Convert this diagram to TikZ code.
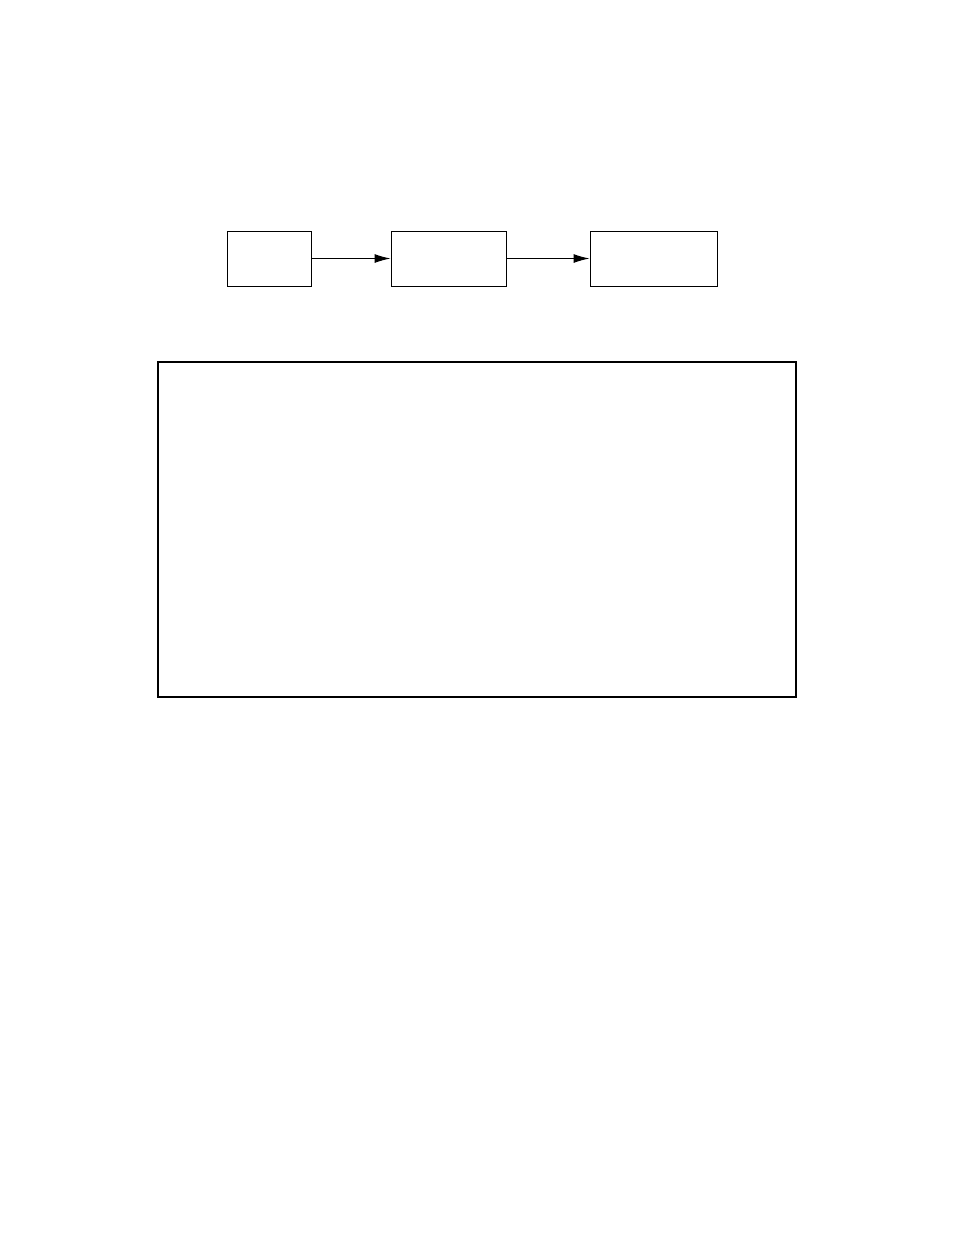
\documentclass[tikz,border=0pt]{standalone}
\usepackage{tikz}
\usetikzlibrary{arrows.meta}

\begin{document}
\begin{tikzpicture}[x=1pt,y=-1pt,
        block/.style={draw=black, line width=1pt, inner sep=0pt, minimum height=55pt},
        frame/.style={draw=black, line width=2pt, inner sep=0pt},
        flow/.style={-{Latex[length=16pt,width=9pt]}, line width=1pt}]
        \useasboundingbox (0,0) rectangle (954,1235);
        \node[block, minimum width=84pt] (src) at (269,258.5) {};
        \node[block, minimum width=115pt] (mid) at (448.5,258.5) {};
        \node[block, minimum width=127pt] (dst) at (653.5,258.5) {};
        \node[frame, minimum width=638pt, minimum height=335pt] (panel) at (477,529.5) {};
        \draw [flow] (src) -- (mid);
        \draw [flow] (mid) -- (dst);
        %\draw[dashed] (panel.north west) -- (panel.south east);
\end{tikzpicture}
\end{document}
